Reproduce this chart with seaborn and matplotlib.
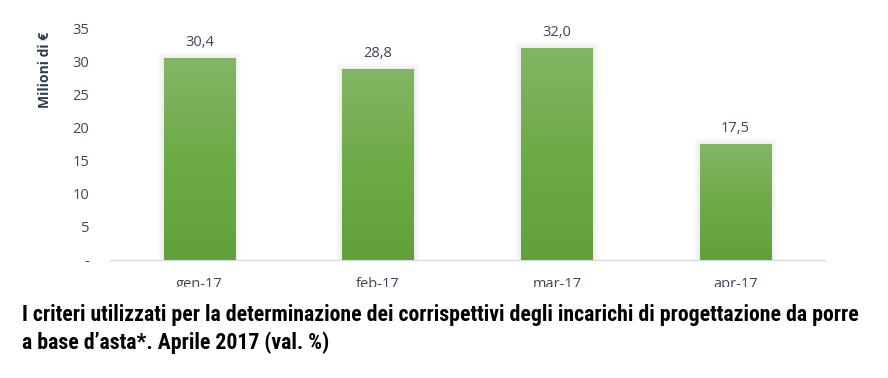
import matplotlib
matplotlib.use("Agg")
import matplotlib.pyplot as plt
import seaborn as sns
import numpy as np
import pandas as pd
from matplotlib.patches import Rectangle
from matplotlib.colors import LinearSegmentedColormap
from matplotlib import font_manager

categories = ["gen-17", "feb-17", "mar-17", "apr-17"]
values = [30.4, 28.8, 32.0, 17.5]
value_labels = ["30,4", "28,8", "32,0", "17,5"]
y_ticks = [0, 5, 10, 15, 20, 25, 30, 35]
y_tick_labels = ["-", "5", "10", "15", "20", "25", "30", "35"]
y_title = "Milioni di €"
caption = ("I criteri utilizzati per la determinazione dei corrispettivi degli incarichi di progettazione da porre\n"
           "a base d\u2019asta*. Aprile 2017 (val. %)")

sns.set_theme(style="white")
plt.rcParams["font.family"] = ["Open Sans", "DejaVu Sans"]

df = pd.DataFrame({"mese": categories, "valore": values})

fig = plt.figure(figsize=(8.88, 3.78), dpi=100)
ax = fig.add_axes([110 / 888, 1 - 260 / 378, (825 - 110) / 888, (260 - 28) / 378])
sns.barplot(data=df, x="mese", y="valore", ax=ax, color="#6fa84a", width=0.4,
            saturation=1, edgecolor="none")
ax.set_xlim(-0.5, 3.5)
ax.set_ylim(0, 35)

px_x = 4.0 / (825 - 110)
px_y = 35.0 / (260 - 28)
cmap = LinearSegmentedColormap.from_list("g", ["#62a03a", "#6dab47", "#82b665"])
grad = np.linspace(0, 1, 256).reshape(-1, 1)
for p in list(ax.patches):
    x0, y0, w, h = p.get_x(), p.get_y(), p.get_width(), p.get_height()
    for k in range(1, 7):
        sh = Rectangle((x0 - k * px_x, y0), w + 2 * k * px_x, h + k * px_y,
                       facecolor="#000000", alpha=0.013, edgecolor="none", zorder=1)
        ax.add_patch(sh)
    im = ax.imshow(grad, extent=[x0, x0 + w, y0, y0 + h], origin="lower",
                   cmap=cmap, aspect="auto", zorder=3)
    im.set_clip_path(p)
    p.set_zorder(2)

ax.set_xlim(-0.5, 3.5)
ax.set_ylim(0, 35)

txtcol = "#3c4656"
for i, (v, lab) in enumerate(zip(values, value_labels)):
    ax.annotate(lab, (i, v), xytext=(0, 6), textcoords="offset points",
                ha="center", va="bottom", fontsize=10.5, color=txtcol)

ax.set_yticks(y_ticks)
ax.set_yticklabels(y_tick_labels, fontsize=10.5, color=txtcol)
ax.tick_params(axis="y", length=0, pad=15)
ax.set_xticks(range(len(categories)))
ax.set_xticklabels(categories, fontsize=10.5, color=txtcol)
ax.tick_params(axis="x", which="major", length=0, pad=12)
ax.set_xticks([-0.5, 0.5, 1.5, 2.5, 3.5], minor=True)
ax.tick_params(axis="x", which="minor", length=5, color="#d6dce4", width=1)
ax.set_xlabel("")
ax.set_ylabel("")
for s in ["top", "right", "left"]:
    ax.spines[s].set_visible(False)
ax.spines["bottom"].set_color("#d6dce4")
ax.spines["bottom"].set_linewidth(1)

fig.text(45 / 888, 1 - 70 / 378, y_title, rotation=90, ha="center", va="center",
         fontsize=10, fontweight="bold", color="#2e3a52")

fig.patches.append(Rectangle((0, 0), 1, 1 - 287 / 378, transform=fig.transFigure,
                             facecolor="white", edgecolor="none", zorder=5))

# choose the narrowest available bold font for the caption
fig.canvas.draw()
r = fig.canvas.get_renderer()
candidates = [("Liberation Sans Narrow", "normal"), ("Roboto Condensed", "normal"),
              ("DejaVu Sans", "condensed"), ("Noto Sans", "condensed"),
              ("Open Sans", "condensed"), ("Roboto", "condensed"),
              ("Liberation Sans", "normal"), ("DejaVu Sans", "normal")]
installed = {f.name for f in font_manager.fontManager.ttflist}
best = None
for fam, st in candidates:
    if fam not in installed:
        continue
    tt = fig.text(0, 0, caption.split("\n")[0], fontsize=13, fontweight="bold",
                  family=[fam, "DejaVu Sans"], fontstretch=st)
    wdt = tt.get_window_extent(r).width
    tt.remove()
    if best is None or wdt < best[2]:
        best = (fam, st, wdt)

fam, st, wdt = best
size = 13 * (852 - 22) / wdt
t = fig.text(22 / 888, 1 - 304 / 378, caption, ha="left", va="top", fontsize=size,
             fontweight="bold", color="black", family=[fam, "DejaVu Sans"],
             fontstretch=st, linespacing=1.28, zorder=6)

fig.savefig("out.png", dpi=100)
